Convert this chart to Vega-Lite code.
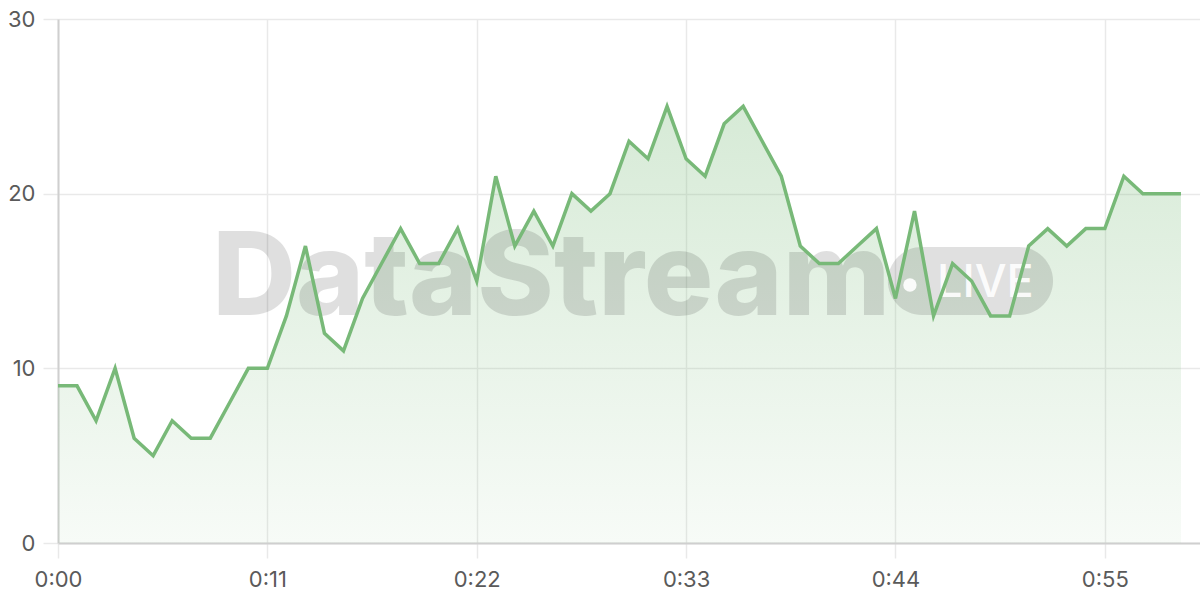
{
  "$schema": "https://vega.github.io/schema/vega-lite/v6.json",
  "width": 1142,
  "height": 524,
  "autosize": {"type": "none"},
  "padding": {"left": 58, "top": 19, "right": 0, "bottom": 57},
  "background": "#ffffff",
  "config": {
    "view": {"stroke": null},
    "font": "Inter",
    "axis": {
      "labelFont": "Inter",
      "labelFontSize": 22,
      "labelColor": "#5a5a5a",
      "gridColor": "#e9e9e9",
      "gridWidth": 1.5,
      "tickColor": "#e9e9e9",
      "tickWidth": 1.5,
      "tickSize": 15,
      "domainColor": "#cfcfcf",
      "domainWidth": 2,
      "labelPadding": 8,
      "title": null
    }
  },
  "datasets": {
    "series": [
      {"t": 0, "v": 9}, {"t": 1, "v": 9}, {"t": 2, "v": 7}, {"t": 3, "v": 10}, {"t": 4, "v": 6},
      {"t": 5, "v": 5}, {"t": 6, "v": 7}, {"t": 7, "v": 6}, {"t": 8, "v": 6}, {"t": 9, "v": 8},
      {"t": 10, "v": 10}, {"t": 11, "v": 10}, {"t": 12, "v": 13}, {"t": 13, "v": 17}, {"t": 14, "v": 12},
      {"t": 15, "v": 11}, {"t": 16, "v": 14}, {"t": 17, "v": 16}, {"t": 18, "v": 18}, {"t": 19, "v": 16},
      {"t": 20, "v": 16}, {"t": 21, "v": 18}, {"t": 22, "v": 15}, {"t": 23, "v": 21}, {"t": 24, "v": 17},
      {"t": 25, "v": 19}, {"t": 26, "v": 17}, {"t": 27, "v": 20}, {"t": 28, "v": 19}, {"t": 29, "v": 20},
      {"t": 30, "v": 23}, {"t": 31, "v": 22}, {"t": 32, "v": 25}, {"t": 33, "v": 22}, {"t": 34, "v": 21},
      {"t": 35, "v": 24}, {"t": 36, "v": 25}, {"t": 37, "v": 23}, {"t": 38, "v": 21}, {"t": 39, "v": 17},
      {"t": 40, "v": 16}, {"t": 41, "v": 16}, {"t": 42, "v": 17}, {"t": 43, "v": 18}, {"t": 44, "v": 14},
      {"t": 45, "v": 19}, {"t": 46, "v": 13}, {"t": 47, "v": 16}, {"t": 48, "v": 15}, {"t": 49, "v": 13},
      {"t": 50, "v": 13}, {"t": 51, "v": 17}, {"t": 52, "v": 18}, {"t": 53, "v": 17}, {"t": 54, "v": 18},
      {"t": 55, "v": 18}, {"t": 56, "v": 21}, {"t": 57, "v": 20}, {"t": 58, "v": 20}, {"t": 59, "v": 20}
    ],
    "brand": [{"name": "DataStream", "badge": "LIVE"}]
  },
  "layer": [
    {
      "data": {"name": "series"},
      "mark": {
        "type": "area",
        "interpolate": "linear",
        "color": {
          "gradient": "linear",
          "x1": 0, "y1": 0, "x2": 0, "y2": 1,
          "stops": [
            {"offset": 0, "color": "rgba(120,186,120,0.30)"},
            {"offset": 1, "color": "rgba(120,186,120,0.06)"}
          ]
        }
      },
      "encoding": {
        "x": {
          "field": "t", "type": "quantitative",
          "scale": {"domain": [0, 60], "nice": false, "zero": false},
          "axis": {
            "values": [0, 11, 22, 33, 44, 55],
            "labelExpr": "'0:' + (datum.value < 10 ? '0' : '') + datum.value",
            "grid": true,
            "labelFlush": false,
            "labelPadding": 11
          }
        },
        "y": {
          "field": "v", "type": "quantitative",
          "scale": {"domain": [0, 30], "nice": false},
          "axis": {"values": [0, 10, 20, 30], "grid": true}
        }
      }
    },
    {
      "data": {"name": "brand"},
      "mark": {
        "type": "text",
        "align": "left",
        "baseline": "alphabetic",
        "font": "Inter",
        "fontWeight": 800,
        "fontSize": 116,
        "color": "#000000",
        "opacity": 0.12,
        "letterSpacing": -3
      },
      "encoding": {
        "x": {"datum": 8.1, "type": "quantitative"},
        "y": {"datum": 13.05, "type": "quantitative"},
        "text": {"field": "name"}
      }
    },
    {
      "data": {"name": "brand"},
      "mark": {
        "type": "rect",
        "color": "#000000",
        "opacity": 0.12,
        "cornerRadius": 34
      },
      "encoding": {
        "x": {"datum": 43.6, "type": "quantitative"},
        "x2": {"datum": 52.28},
        "y": {"datum": 16.94, "type": "quantitative"},
        "y2": {"datum": 13.05}
      }
    },
    {
      "data": {"name": "brand"},
      "mark": {
        "type": "point",
        "shape": "circle",
        "filled": true,
        "size": 180,
        "color": "#ffffff",
        "opacity": 0.9
      },
      "encoding": {
        "x": {"datum": 44.76, "type": "quantitative"},
        "y": {"datum": 14.77, "type": "quantitative"}
      }
    },
    {
      "data": {"name": "brand"},
      "mark": {
        "type": "text",
        "align": "left",
        "baseline": "alphabetic",
        "font": "Inter",
        "fontWeight": 500,
        "fontSize": 45,
        "color": "#ffffff",
        "opacity": 0.9
      },
      "encoding": {
        "x": {"datum": 46.18, "type": "quantitative"},
        "y": {"datum": 14.08, "type": "quantitative"},
        "text": {"field": "badge"}
      }
    },
    {
      "data": {"name": "series"},
      "mark": {
        "type": "line",
        "interpolate": "linear",
        "color": "#78b978",
        "strokeWidth": 3.5,
        "strokeJoin": "miter"
      },
      "encoding": {
        "x": {"field": "t", "type": "quantitative"},
        "y": {"field": "v", "type": "quantitative"}
      }
    }
  ]
}
